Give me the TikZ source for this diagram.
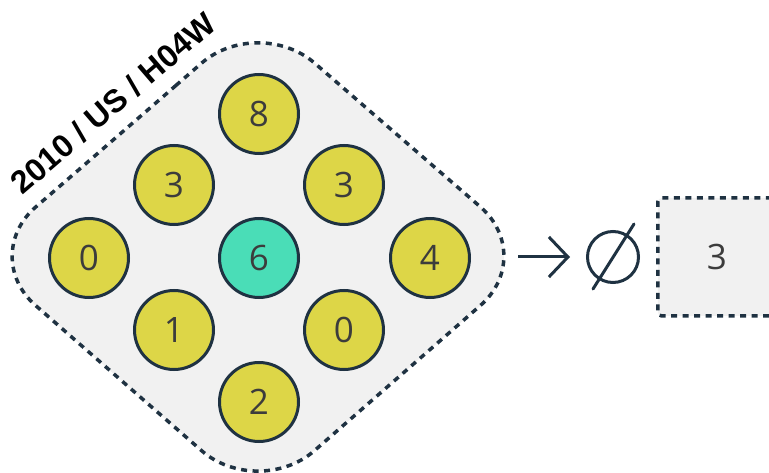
\documentclass[tikz,border=0pt]{standalone}
\usepackage{fontspec}
\setmainfont{Open Sans}
\newfontfamily\labfont{Liberation Sans}
\usetikzlibrary{arrows.meta}
\definecolor{ink}{HTML}{1F3242}
\definecolor{digit}{HTML}{3C3C3C}
\definecolor{pale}{HTML}{F1F1F1}
\definecolor{yel}{HTML}{DDD647}
\definecolor{teal}{HTML}{4ADDB7}
\tikzset{
  outline/.style={draw=ink, fill=pale, line width=3.5pt, dash pattern=on 6pt off 5.5pt, rounded corners=75pt},
  ball/.style={circle, draw=ink, line width=3pt, minimum size=79pt, inner sep=0pt, text=digit, font=\fontsize{35}{35}\selectfont},
  yball/.style={ball, fill=yel},
  tball/.style={ball, fill=teal},
  resbox/.style={draw=ink, fill=pale, line width=3.5pt, dash pattern=on 6pt off 5.5pt, rounded corners=4pt, minimum width=118pt, minimum height=118pt, inner sep=0pt, text=digit, font=\fontsize{35}{35}\selectfont},
  emptyset/.style={circle, draw=ink, line width=3pt, minimum size=51pt, inner sep=0pt},
  conn/.style={draw=ink, line width=3pt, -{Straight Barb[length=19pt, width=40pt]}}
}
\begin{document}
\begin{tikzpicture}[x=1pt,y=-1pt]
\useasboundingbox (0,0) rectangle (769,473);
% diamond frame
\path[outline] (119,135) -- (258,14) -- (537,256) -- (258,500) -- (-21,256) -- cycle;
\coordinate (frameR) at (518,257);
% balls
\node[yball] (n8) at (259,114) {8};
\node[yball] (n3a) at (174,185) {3};
\node[yball] (n3b) at (344,185) {3};
\node[yball] (n0a) at (89,258) {0};
\node[tball] (n6) at (259,258) {6};
\node[yball] (n4) at (430,258) {4};
\node[yball] (n1) at (174,330) {1};
\node[yball] (n0b) at (344,330) {0};
\node[yball] (n2) at (259,402) {2};
% label
\node[rotate=40.7, font=\labfont\bfseries\fontsize{32}{32}\selectfont, text=black, inner sep=0pt] (lab) at (113,103) {2010 / US / H04W};
% empty set
\node[emptyset] (empty) at (613,257) {};
\draw[ink, line width=3pt, line cap=round] ([shift={(-20,32)}]empty.center) -- ([shift={(21,-33)}]empty.center);
% arrow
\draw[conn] (frameR) -- ([xshift=-16pt]empty.west);
% result box
\node[resbox, anchor=west] (res) at (656,257) {3};
\end{tikzpicture}
\end{document}
